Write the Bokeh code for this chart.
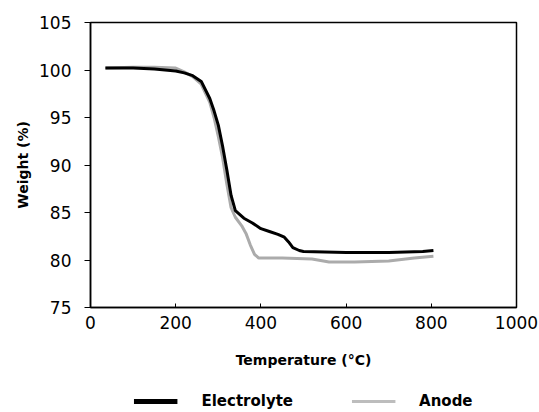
from bokeh.plotting import figure
from bokeh.models import Range1d, FixedTicker, Legend, LegendItem
from bokeh.layouts import column
from bokeh.embed import file_html
from bokeh.resources import INLINE

# Data
electrolyte_x = [35, 100, 150, 200, 220, 240, 260, 280, 290, 300, 310, 320, 330, 340, 360, 380,
                 400, 420, 440, 455, 465, 475, 490, 500, 600, 700, 780, 805]
electrolyte_y = [100.2, 100.2, 100.1, 99.9, 99.7, 99.4, 98.8, 97.0, 95.7, 94.2, 92.0, 89.5, 86.8,
                 85.2, 84.4, 83.9, 83.3, 83.0, 82.7, 82.4, 81.9, 81.3, 81.0, 80.9, 80.8, 80.8, 80.9, 81.0]

anode_x = [35, 100, 150, 200, 220, 240, 260, 280, 290, 300, 310, 320, 330, 340, 355, 365, 375,
           385, 395, 450, 520, 560, 620, 700, 760, 805]
anode_y = [100.2, 100.3, 100.3, 100.2, 99.8, 99.3, 98.5, 96.6, 95.0, 93.0, 90.8, 88.0, 85.5, 84.5,
           83.6, 82.8, 81.6, 80.6, 80.2, 80.2, 80.1, 79.8, 79.8, 79.9, 80.2, 80.4]

x_ticks = [0, 200, 400, 600, 800, 1000]
y_ticks = [75, 80, 85, 90, 95, 100, 105]
series_names = ["Electrolyte", "Anode"]

p = figure(width=539, height=390, output_backend="svg", toolbar_location=None,
           x_range=Range1d(0, 1000), y_range=Range1d(75, 105),
           min_border_left=90, min_border_right=23, min_border_top=22, min_border_bottom=83)

p.xgrid.visible = False
p.ygrid.visible = False
p.outline_line_color = "black"
p.outline_line_width = 1.5
p.background_fill_color = "white"
p.border_fill_color = "white"

p.line(anode_x, anode_y, line_color="#ababab", line_width=3)
p.line(electrolyte_x, electrolyte_y, line_color="black", line_width=3)

xa = p.xaxis[0]
xa.ticker = FixedTicker(ticks=x_ticks)
xa.axis_line_color = "black"
xa.axis_line_width = 1.5
xa.major_tick_in = 4
xa.major_tick_out = 0
xa.minor_tick_line_color = None
xa.major_label_standoff = 8
xa.major_label_text_font = "DejaVu Sans"
xa.major_label_text_font_size = "17px"
xa.major_label_text_color = "black"
xa.axis_label = "Temperature (°C)"
xa.axis_label_text_font = "DejaVu Sans"
xa.axis_label_text_font_style = "bold"
xa.axis_label_text_font_size = "14px"
xa.axis_label_text_color = "black"
xa.axis_label_standoff = 20

ya = p.yaxis[0]
ya.ticker = FixedTicker(ticks=y_ticks)
ya.axis_line_color = "black"
ya.axis_line_width = 1.5
ya.major_tick_in = 0
ya.major_tick_out = 6
ya.minor_tick_line_color = None
ya.major_label_standoff = 13
ya.major_label_text_font = "DejaVu Sans"
ya.major_label_text_font_size = "17px"
ya.major_label_text_color = "black"
ya.axis_label = "Weight (%)"
ya.axis_label_text_font = "DejaVu Sans"
ya.axis_label_text_font_style = "bold"
ya.axis_label_text_font_size = "14px"
ya.axis_label_text_color = "black"
ya.axis_label_standoff = 5

# Legend strip below the chart
p2 = figure(width=539, height=22, output_backend="svg", toolbar_location=None,
            x_range=Range1d(2000, 3000), y_range=Range1d(0, 1),
            min_border_left=44, min_border_right=0, min_border_top=0, min_border_bottom=0)
p2.axis.visible = False
p2.grid.visible = False
p2.outline_line_color = None
r_el = p2.line(electrolyte_x, electrolyte_y, line_color="black", line_width=5)
r_an = p2.line(anode_x, anode_y, line_color="#bdbdbd", line_width=3)

legend = Legend(items=[LegendItem(label=series_names[0], renderers=[r_el]),
                       LegendItem(label=series_names[1], renderers=[r_an])],
                orientation="horizontal", location="center",
                glyph_width=44, glyph_height=14, label_height=14, label_standoff=24, spacing=58,
                label_text_font="DejaVu Sans", label_text_font_style="bold",
                label_text_font_size="15px", label_text_color="black", border_line_color=None,
                background_fill_alpha=0, padding=0, margin=0)
p2.add_layout(legend, "center")

layout = column(p, p2, spacing=0)
open("out.html", "w").write(file_html(layout, INLINE))
